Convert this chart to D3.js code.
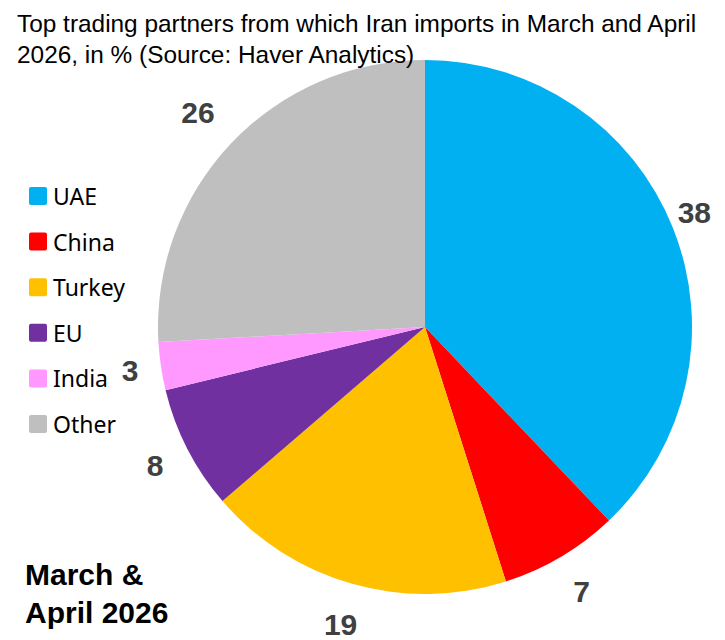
<!DOCTYPE html>
<html>
<head>
<meta charset="utf-8">
<script src="https://cdn.jsdelivr.net/npm/d3@7"></script>
<style>
  body { margin: 0; background: #fff; }
  svg { display: block; }
</style>
</head>
<body>
<div id="chart"></div>
<script>
// data (shares in %)
const partners = ["UAE", "China", "Turkey", "EU", "India", "Other"];
const shares = [37.9, 7.2, 18.6, 7.5, 2.9, 25.9];
const shownLabels = ["38", "7", "19", "8", "3", "26"];
const colors = ["#00B0F0", "#FF0000", "#FFC000", "#7030A0", "#FF99FF", "#BFBFBF"];
const titleLines = ["Top trading partners from which Iran imports in March and April",
                    "2026, in % (Source: Haver Analytics)"];
const periodLines = ["March &", "April 2026"];

const width = 725, height = 640;
const cx = 425, cy = 327, radius = 267;
const labelGap = 285;   // where the label box starts, from the centre
const labelBoxH = 40;   // label box height, used for placement

const svg = d3.select("#chart").append("svg")
    .attr("width", width)
    .attr("height", height);

const slices = partners.map((p, i) => ({ name: p, value: shares[i], label: shownLabels[i], color: colors[i] }));

const pie = d3.pie().value(d => d.value).sort(null);
const arc = d3.arc().innerRadius(0).outerRadius(radius);

const g = svg.append("g").attr("transform", `translate(${cx},${cy})`);

g.selectAll("path")
    .data(pie(slices))
    .enter()
    .append("path")
    .attr("d", arc)
    .attr("fill", d => d.data.color);

// value labels outside the pie, box pushed out along the mid angle
const labels = g.selectAll("text.value")
    .data(pie(slices))
    .enter()
    .append("text")
    .attr("class", "value")
    .attr("text-anchor", "middle")
    .attr("dominant-baseline", "central")
    .attr("font-family", "'Liberation Sans Narrow', 'Arial Narrow', sans-serif")
    .attr("font-weight", "bold")
    .attr("font-size", 30)
    .attr("fill", "#404040")
    .text(d => d.data.label);

labels.each(function(d) {
    const w = this.getComputedTextLength() + 4;
    const a = (d.startAngle + d.endAngle) / 2;
    const ux = Math.sin(a), uy = -Math.cos(a);
    const dist = labelGap + w / 2 * Math.abs(ux) + labelBoxH / 2 * Math.abs(uy);
    let x = ux * dist, y = uy * dist;
    // keep inside the chart area
    x = Math.min(x, width - 12 - cx - w / 2);
    x = Math.max(x, 8 - cx + w / 2);
    d3.select(this).attr("transform", `translate(${x},${y})`);
});

// legend
const legendY = d3.scalePoint().domain(partners).range([196, 424]);
const legend = svg.append("g");
const items = legend.selectAll("g")
    .data(slices)
    .enter()
    .append("g")
    .attr("transform", d => `translate(29,${legendY(d.name)})`);

items.append("rect")
    .attr("x", 0).attr("y", -9)
    .attr("width", 18).attr("height", 18)
    .attr("rx", 2)
    .attr("fill", d => d.color);

items.append("text")
    .attr("x", 24)
    .attr("y", 0)
    .attr("dominant-baseline", "central")
    .attr("font-family", "'Noto Sans', sans-serif")
    .attr("font-size", 23)
    .attr("fill", "#000")
    .text(d => d.name);

// title, drawn over the pie
svg.append("g").selectAll("text")
    .data(titleLines)
    .enter()
    .append("text")
    .attr("x", 17)
    .attr("y", (d, i) => 32 + i * 31)
    .attr("font-family", "'Liberation Sans Narrow', 'Arial Narrow', sans-serif")
    .attr("font-size", 24.4)
    .attr("fill", "#000")
    .text(d => d);

// period note bottom left
svg.append("g").selectAll("text")
    .data(periodLines)
    .enter()
    .append("text")
    .attr("x", 25)
    .attr("y", (d, i) => 585 + i * 38)
    .attr("font-family", "'Liberation Sans Narrow', 'Arial Narrow', sans-serif")
    .attr("font-weight", "bold")
    .attr("font-size", 30)
    .attr("fill", "#000")
    .text(d => d);
</script>
</body>
</html>
